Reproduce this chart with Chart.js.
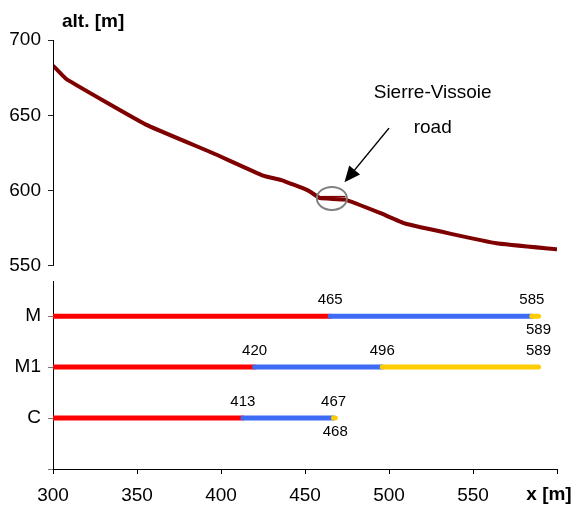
<!DOCTYPE html>
<html>
<head>
<meta charset="utf-8">
<script src="https://cdn.jsdelivr.net/npm/chart.js@4/dist/chart.umd.min.js"></script>
<style>
  html, body { margin: 0; padding: 0; background: #fff; }
  #wrap { width: 574px; height: 508px; }
</style>
</head>
<body>
<div id="wrap"><canvas id="profile-chart" width="574" height="508"></canvas></div>
<script>
// altitude profile along the slope
var profileX = [300, 308, 355, 395, 425, 436, 452, 459, 474, 495, 510, 564, 600];
var profileAlt = [683, 674, 644, 625, 610, 607, 600, 595, 594, 585, 578, 565, 561];
// short road stretch inside the circle
var roadX = [459, 474];
var roadAlt = [596, 596];

// runout bars per model, each row: red -> blue -> yellow
var categories = ['M', 'M1', 'C'];
var barStart = [300, 300, 300];
var redEnd = [465, 420, 413];
var blueEnd = [585, 496, 467];
var yellowEnd = [589, 589, 468];
var yellowLabelBelow = [true, false, true];

var xTicks = [300, 350, 400, 450, 500, 550, 600];
var altTicks = [550, 600, 650, 700];

(function render(win, doc) {
  var font = '"Liberation Sans", Arial, sans-serif';
  var red = '#ff0000';
  var blue = '#3d6bf5';
  var yellow = '#ffcc00';
  var maroon = '#7f0000';

  function rowValue(i) {
    return categories.length - i;
  }

  function segment(from, to, row, color) {
    return {
      type: 'line',
      yAxisID: 'y2',
      data: [{ x: from, y: row }, { x: to, y: row }],
      borderColor: color,
      borderWidth: 5,
      borderCapStyle: 'round',
      pointRadius: 0,
      clip: { left: 0, top: false, right: false, bottom: false }
    };
  }

  var datasets = [];
  categories.forEach(function (name, i) {
    var row = rowValue(i);
    datasets.push(segment(blueEnd[i], yellowEnd[i], row, yellow));
    datasets.push(segment(redEnd[i], blueEnd[i], row, blue));
    datasets.push(segment(barStart[i], redEnd[i], row, red));
  });

  datasets.push({
    type: 'line',
    yAxisID: 'y',
    data: profileX.map(function (x, i) { return { x: x, y: profileAlt[i] }; }),
    borderColor: maroon,
    borderWidth: 4,
    borderJoinStyle: 'round',
    tension: 0.1,
    pointRadius: 0
  });
  datasets.push({
    type: 'line',
    yAxisID: 'y',
    data: roadX.map(function (x, i) { return { x: x, y: roadAlt[i] }; }),
    borderColor: maroon,
    borderWidth: 1.5,
    pointRadius: 0
  });

  var rowLabels = { 0: '' };
  categories.forEach(function (name, i) { rowLabels[rowValue(i)] = name; });

  var extras = {
    id: 'extras',
    afterDraw: function (chart) {
      var c = chart.ctx;
      var xs = chart.scales.x;
      var ys = chart.scales.y;
      var y2 = chart.scales.y2;
      var area = chart.chartArea;

      c.save();
      // upper axis line (only 550..700)
      c.strokeStyle = '#000';
      c.lineWidth = 1;
      c.beginPath();
      c.moveTo(area.left + 0.5, ys.getPixelForValue(700));
      c.lineTo(area.left + 0.5, ys.getPixelForValue(550));
      c.stroke();

      // axis titles
      c.fillStyle = '#000';
      c.font = 'bold 19px ' + font;
      c.textAlign = 'left';
      c.textBaseline = 'middle';
      c.fillText('alt. [m]', 62, 22);
      c.textAlign = 'center';
      c.fillText('x [m]', 549, 495);

      // bar value labels
      c.font = '15px ' + font;
      categories.forEach(function (name, i) {
        var py = y2.getPixelForValue(rowValue(i));
        var ends = [redEnd[i], blueEnd[i], yellowEnd[i]];
        ends.forEach(function (v, k) {
          var below = k === 2 && yellowLabelBelow[i];
          c.fillText(String(v), xs.getPixelForValue(v), below ? py + 14 : py - 16);
        });
      });

      // annotation text
      c.font = '19px ' + font;
      c.fillText('Sierre-Vissoie', xs.getPixelForValue(526), ys.getPixelForValue(665));
      c.fillText('road', xs.getPixelForValue(526), ys.getPixelForValue(641.5));

      // circle around the road
      c.strokeStyle = '#808080';
      c.lineWidth = 2;
      c.beginPath();
      c.ellipse(xs.getPixelForValue(466), ys.getPixelForValue(594.8), 15, 11.5, 0, 0, Math.PI * 2);
      c.stroke();

      // arrow
      var ax = xs.getPixelForValue(500);
      var ay = ys.getPixelForValue(641.5);
      var bx = xs.getPixelForValue(473.5);
      var by = ys.getPixelForValue(605.5);
      var ang = Math.atan2(by - ay, bx - ax);
      c.strokeStyle = '#000';
      c.lineWidth = 1.5;
      c.beginPath();
      c.moveTo(ax, ay);
      c.lineTo(bx - 10 * Math.cos(ang), by - 10 * Math.sin(ang));
      c.stroke();
      c.fillStyle = '#000';
      c.beginPath();
      c.moveTo(bx, by);
      c.lineTo(bx - 16 * Math.cos(ang) + 7 * Math.sin(ang), by - 16 * Math.sin(ang) - 7 * Math.cos(ang));
      c.lineTo(bx - 16 * Math.cos(ang) - 7 * Math.sin(ang), by - 16 * Math.sin(ang) + 7 * Math.cos(ang));
      c.closePath();
      c.fill();
      c.restore();
    }
  };

  function fixedTicks(values) {
    return function (scale) {
      scale.ticks = values.map(function (v) { return { value: v }; });
    };
  }

  var ctx = doc.querySelector('#profile-chart').getContext('2d');
  new Chart(ctx, {
    type: 'line',
    data: { datasets: datasets },
    plugins: [extras],
    options: {
      responsive: false,
      animation: false,
      events: [],
      layout: { padding: { left: 0, top: 40, right: 17, bottom: 0 } },
      plugins: { legend: { display: false }, tooltip: { enabled: false } },
      scales: {
        x: {
          type: 'linear',
          min: 300,
          max: 600,
          afterBuildTicks: fixedTicks(xTicks),
          afterFit: function (scale) { scale.height = 39; },
          grid: { drawOnChartArea: false, tickLength: 5, color: '#000' },
          border: { color: '#000' },
          ticks: {
            padding: 10,
            color: '#000',
            font: { family: font, size: 19 },
            callback: function (v) { return v === 600 ? '' : v; }
          }
        },
        y2: {
          type: 'linear',
          position: 'left',
          stack: 'rows',
          stackWeight: 188,
          min: 0,
          max: 3.69,
          afterBuildTicks: fixedTicks([0, 1, 2, 3]),
          afterFit: function (scale) { scale.width = 53; },
          grid: { drawOnChartArea: false, tickLength: 5, color: '#777' },
          border: { color: '#000' },
          ticks: {
            padding: 7,
            color: '#000',
            font: { family: font, size: 19 },
            callback: function (v) { return rowLabels[v]; }
          }
        },
        y: {
          type: 'linear',
          position: 'left',
          stack: 'rows',
          stackWeight: 241,
          min: 540,
          max: 700,
          afterBuildTicks: fixedTicks(altTicks),
          afterFit: function (scale) { scale.width = 53; },
          grid: { drawOnChartArea: false, tickLength: 5, color: '#222' },
          border: { display: false },
          ticks: { padding: 7, color: '#000', font: { family: font, size: 19 } }
        }
      }
    }
  });
})(window, document);
</script>
</body>
</html>
